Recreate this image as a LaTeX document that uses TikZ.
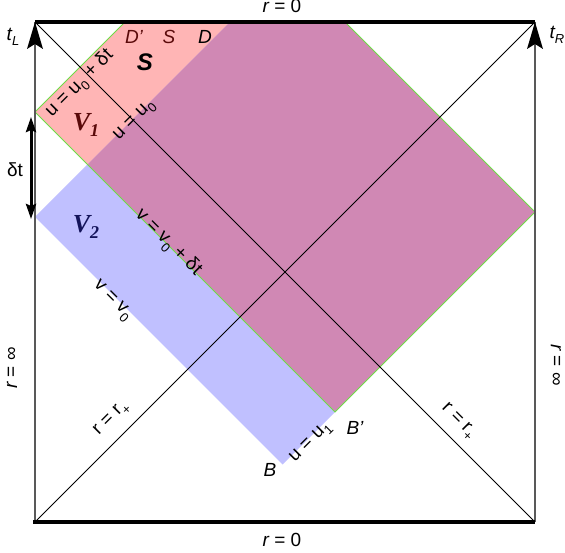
\documentclass[tikz,border=0pt]{standalone}
\usepackage{fontspec}
\setmainfont{Liberation Sans}
\newfontfamily\vfont{Liberation Serif}
\usetikzlibrary{arrows.meta}
\definecolor{pinkfill}{RGB}{255,181,181}
\definecolor{purplefill}{RGB}{208,136,180}
\definecolor{bluefill}{RGB}{192,192,255}
\definecolor{greenline}{RGB}{110,220,70}
\definecolor{darkred}{RGB}{90,10,10}
\definecolor{navyv}{RGB}{20,20,90}
\newcommand{\sbs}[1]{\raisebox{-0.28em}{\fontsize{13}{14}\selectfont #1}}
\newcommand{\vsub}[1]{\raisebox{-0.22em}{\fontsize{18}{20}\selectfont #1}}
\begin{document}
\begin{tikzpicture}[x=1pt,y=-1pt,
  lbl/.style={font=\fontsize{19}{22}\selectfont, inner sep=0pt},
  vlbl/.style={font=\vfont\bfseries\itshape\fontsize{26}{28}\selectfont, inner sep=0pt},
  greenedge/.style={draw=greenline, line width=1pt},
  thinline/.style={draw=black, line width=0.9pt},
  sideline/.style={draw=black!65, line width=1.3pt},
  thickline/.style={draw=black, line width=3.2pt},
  dtarrow/.style={{Stealth[length=15pt,width=10pt,inset=2pt]}-{Stealth[length=15pt,width=10pt,inset=2pt]}, line width=3pt}]
\useasboundingbox (0,0) rectangle (565,553);
% corners of the square
\coordinate (TL) at (35,22);
\coordinate (TR) at (535,22);
\coordinate (BL) at (35,522);
\coordinate (BR) at (535,522);
% region corners
\coordinate (P1) at (35,112);
\coordinate (P2) at (125,22);
\coordinate (P3) at (230,22);
\coordinate (P4) at (87.5,164.5);
\coordinate (Q3) at (345,22);
\coordinate (Q4) at (535,212);
\coordinate (Bp) at (335,412);
\coordinate (Bc) at (282.5,464.5);
\coordinate (V2L) at (35,217);
% fills
\fill[pinkfill] (P1) -- (P2) -- (P3) -- (P4) -- cycle;
\fill[bluefill] (V2L) -- (P4) -- (Bp) -- (Bc) -- cycle;
\fill[purplefill] (P4) -- (P3) -- (Q3) -- (Q4) -- (Bp) -- cycle;
% green outline
\draw[greenedge] (P2) -- (P1) -- (Bp) -- (Q4) -- (Q3);
% diagonals
\draw[thinline] (TL) -- (BR);
\draw[thinline] (TR) -- (BL);
% sides with time arrows
\draw[sideline] (BL) -- (TL);
\draw[sideline] (BR) -- (TR);
\fill[black] (TL) -- +(-8,27) -- +(0,22) -- +(8,27) -- cycle;
\fill[black] (TR) -- +(-8,27) -- +(0,22) -- +(8,27) -- cycle;
% top and bottom r=0
\draw[thickline] (TL) -- (TR);
\draw[thickline] (33,522) -- (BR);
% delta t arrow
\coordinate (dtA) at (31,117);
\coordinate (dtB) at (31,219);
\draw[dtarrow] (dtA) -- (dtB);
% labels
\node[lbl] (rtop) at (282,6) {\itshape r\upshape\ = 0};
\node[lbl] (rbot) at (282,540) {\itshape r\upshape\ = 0};
\node[lbl] (tL) at (13,37) {\itshape t\sbs{L}};
\node[lbl] (tR) at (557,35) {\itshape t\sbs{R}};
\node[lbl, text=darkred] (Dp) at (134,37) {\itshape D'};
\node[lbl, text=darkred] (Ssm) at (169,37) {\itshape S};
\node[lbl] (Dd) at (205,37) {\itshape D};
\node[font=\bfseries\itshape\fontsize{24}{26}\selectfont, inner sep=0pt] (Sbig) at (145,62) {S};
\node[vlbl, text=darkred] (V1) at (86,125) {V\vsub{\vfont\bfseries\itshape 1}};
\node[vlbl, text=navyv] (V2) at (86,227) {V\vsub{\vfont\bfseries\itshape 2}};
\node[lbl] (dt) at (15,170) {δt};
\node[lbl, rotate=45] (uu0d) at (80,84) {u = u\sbs{0} + δt};
\node[lbl, rotate=45] (uu0) at (135,121) {u = u\sbs{0}};
\node[lbl, rotate=-45] (vv0d) at (168,243) {v = v\sbs{0} + δt};
\node[lbl, rotate=-45] (vv0) at (112,301) {v = v\sbs{0}};
\node[lbl, rotate=45] (uu1) at (311,443) {u = u\sbs{1}};
\node[lbl] (Bpl) at (355,428) {\itshape B'};
\node[lbl] (Bl) at (270,470) {\itshape B};
\node[lbl, rotate=45] (rrpL) at (112,419) {r = r\sbs{+}};
\node[lbl, rotate=-45] (rrpR) at (458,422) {r = r\sbs{+}};
\node[lbl, rotate=90] (rinfL) at (12,368) {\itshape r\upshape\ = ∞};
\node[lbl, rotate=-90] (rinfR) at (556,365) {\itshape r\upshape\ = ∞};
\end{tikzpicture}
\end{document}
